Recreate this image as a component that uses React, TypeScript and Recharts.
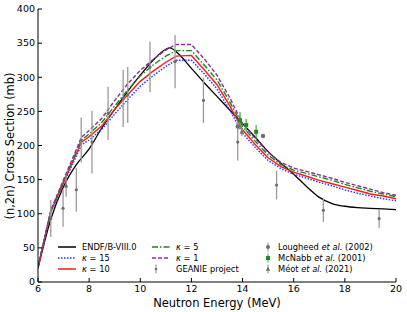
import React from "react";
import {
  ComposedChart,
  Line,
  Scatter,
  ErrorBar,
  XAxis,
  YAxis,
} from "recharts";

// energies (MeV) for the model curves
const ENERGY = [6, 6.5, 7, 7.7, 8, 8.5, 9, 9.5, 10, 10.5, 11, 11.4, 12, 12.5, 13, 13.5, 14, 14.5, 15, 15.5, 16, 16.5, 17, 17.5, 18, 18.5, 19, 19.5, 20];
const KAPPA1 = [22, 105, 150, 212, 222, 240, 266, 290, 310, 326, 340, 348, 348, 327, 303, 270, 232, 210, 190, 175, 167, 162, 157, 152, 146, 141, 136, 131, 127];
const KAPPA5 = [22, 104, 148, 208, 217, 234, 258, 281, 302, 318, 331, 339, 339, 318, 296, 264, 228, 206, 186, 172, 164, 159, 154, 149, 143, 138, 133, 129, 125];
const KAPPA10 = [22, 103, 146, 205, 213, 229, 253, 274, 294, 309, 322, 331, 332, 311, 289, 258, 223, 201, 182, 169, 161, 155, 149, 144, 139, 134, 129, 126, 122];
const KAPPA15 = [22, 102, 144, 201, 208, 224, 246, 267, 287, 302, 316, 325, 325, 305, 283, 252, 218, 197, 178, 166, 158, 152, 146, 141, 135, 130, 126, 122, 119];

// ENDF/B-VIII.0 evaluation
const ENDF_E = [6, 6.5, 7, 7.5, 8, 8.5, 9, 9.5, 10, 10.5, 11, 11.15, 11.5, 12, 12.5, 13, 13.5, 14, 14.5, 15, 15.5, 16, 16.5, 17, 17.5, 18, 18.5, 19, 19.5, 20];
const ENDF_XS = [20, 92, 140, 172, 195, 226, 253, 279, 303, 325, 341, 343, 334, 313, 292, 272, 252, 232, 212, 191, 174, 158, 140, 124, 115, 111, 109, 108, 107, 106];

// measurements
const GEANIE_E = [6.5, 6.98, 7.5, 7.69, 8.11, 8.74, 9.33, 9.51, 10.38, 11.36, 12.47, 13.81, 15.33, 17.16, 19.34];
const GEANIE_XS = [93, 108, 135, 208, 205, 247, 269, 274, 315, 323, 266, 205, 142, 105, 93];
const GEANIE_ERR = [27, 27, 32, 33, 46, 39, 42, 41, 37, 39, 33, 27, 21, 17, 14];

const LOUGHEED_E = [13.81, 14.8];
const LOUGHEED_XS = [228, 214];
const LOUGHEED_ERR = [5, 3];

const MCNABB_E = [13.9, 14.14, 14.53];
const MCNABB_XS = [237, 230, 220];
const MCNABB_ERR = [12, 9, 10];

const MEOT_E = [7.1, 13.97];
const MEOT_XS = [141, 220];
const MEOT_ERR = [16, 6];

const X_TICKS = [6, 8, 10, 12, 14, 16, 18, 20];
const Y_TICKS = [0, 50, 100, 150, 200, 250, 300, 350, 400];

const curve = (xs: number[], ys: number[]) => xs.map((x, i) => ({ x, y: ys[i] }));
const points = (xs: number[], ys: number[], err: number[]) =>
  xs.map((x, i) => ({ x, y: ys[i], err: [err[i], err[i]] }));

const FONT = "DejaVu Sans";
const GRAY = "#6e6e6e";
const BAR_GRAY = "#9a9a9a";
const GREEN = "#1f8a1f";
const COLORS = {
  endf: "#000000",
  k15: "#2b2bff",
  k10: "#ff1a1a",
  k5: "#168a16",
  k1: "#8e2a9e",
};

const dot = (color: string, r: number) => (p: any) =>
  <circle cx={p.cx} cy={p.cy} r={r} fill={color} />;
const square = (color: string) => (p: any) =>
  <rect x={p.cx - 2} y={p.cy - 2} width={4} height={4} fill={color} />;
const triangle = (color: string) => (p: any) =>
  <polygon points={`${p.cx},${p.cy - 2.5} ${p.cx - 2.2},${p.cy + 1.8} ${p.cx + 2.2},${p.cy + 1.8}`} fill={color} />;

const tickStyle = { fontFamily: FONT, fontSize: 9.5, fill: "#000" };

function LegendLine({ color, dash }: { color: string; dash?: string }) {
  return (
    <svg width={20} height={8} style={{ display: "block" }}>
      <line x1={1} y1={4} x2={19} y2={4} stroke={color} strokeWidth={1.5} strokeDasharray={dash} />
    </svg>
  );
}

function LegendMarker({ color, kind }: { color: string; kind: string }) {
  return (
    <svg width={10} height={10} style={{ display: "block" }}>
      <line x1={5} y1={0.5} x2={5} y2={9.5} stroke={color} strokeWidth={1} opacity={0.8} />
      {kind === "circle" && <circle cx={5} cy={5} r={2} fill={color} />}
      {kind === "square" && <rect x={3} y={3} width={4} height={4} fill={color} />}
      {kind === "triangle" && <polygon points="5,2.5 2.8,6.8 7.2,6.8" fill={color} />}
      {kind === "small" && <circle cx={5} cy={5} r={1.3} fill={color} />}
    </svg>
  );
}

const kappa = (v: string) => (
  <span>
    <i>κ</i> = {v}
  </span>
);

const legendRows: { left: number; top: number; sample: React.ReactNode; label: React.ReactNode; gap: number }[] = [
  { left: 57, top: 247, sample: <LegendLine color={COLORS.endf} />, label: "ENDF/B-VIII.0", gap: 25 },
  { left: 57, top: 258, sample: <LegendLine color={COLORS.k15} dash="1.5 1.5" />, label: kappa("15"), gap: 25 },
  { left: 57, top: 269, sample: <LegendLine color={COLORS.k10} />, label: kappa("10"), gap: 25 },
  { left: 151, top: 247, sample: <LegendLine color={COLORS.k5} dash="6 2 1.5 2" />, label: kappa("5"), gap: 25 },
  { left: 151, top: 258, sample: <LegendLine color={COLORS.k1} dash="4 2" />, label: kappa("1"), gap: 25 },
  { left: 151, top: 269, sample: <LegendMarker color={GRAY} kind="small" />, label: "GEANIE project", gap: 25 },
  { left: 258, top: 247, sample: <LegendMarker color={GRAY} kind="circle" />, label: <span>Lougheed <i>et al.</i> (2002)</span>, gap: 20 },
  { left: 258, top: 258, sample: <LegendMarker color={GREEN} kind="square" />, label: <span>McNabb <i>et al.</i> (2001)</span>, gap: 20 },
  { left: 258, top: 269, sample: <LegendMarker color={GRAY} kind="triangle" />, label: <span>Méot <i>et al.</i> (2021)</span>, gap: 20 },
];

export default function App() {
  return (
    <div style={{ position: "absolute", left: 0, top: 0, width: 407, height: 312, background: "#fff" }}>
      <ComposedChart
        width={407}
        height={312}
        margin={{ top: 9, right: 11, bottom: 0, left: 8 }}
        style={{ fontFamily: FONT }}
      >
        <XAxis
          dataKey="x"
          type="number"
          domain={[6, 20]}
          ticks={X_TICKS}
          allowDataOverflow
          height={30}
          tickSize={-4}
          tickMargin={7}
          tick={tickStyle}
          stroke="#000"
          tickLine={{ stroke: "#000" }}
          label={{ value: "Neutron Energy (MeV)", position: "insideBottom", offset: 5, style: { fontFamily: FONT, fontSize: 11.5, fill: "#000" } }}
        />
        <XAxis
          xAxisId="top"
          orientation="top"
          type="number"
          domain={[6, 20]}
          ticks={X_TICKS}
          allowDataOverflow
          height={0}
          tickSize={-4}
          tickFormatter={() => ""}
          stroke="#000"
        />
        <YAxis
          dataKey="y"
          type="number"
          domain={[0, 400]}
          ticks={Y_TICKS}
          allowDataOverflow
          width={30}
          tickSize={-4}
          tickMargin={7}
          tick={tickStyle}
          stroke="#000"
          label={{
            content: () => (
              <text x={10} y={146} transform="rotate(-90 10 146)" textAnchor="middle" dominantBaseline="central" fontFamily={FONT} fontSize={11.5} fill="#000">
                (n,2n) Cross Section (mb)
              </text>
            ),
          }}
        />
        <YAxis
          yAxisId="right"
          orientation="right"
          type="number"
          domain={[0, 400]}
          ticks={Y_TICKS}
          allowDataOverflow
          width={0}
          tickSize={-4}
          tickFormatter={() => ""}
          stroke="#000"
        />

        <Line data={curve(ENDF_E, ENDF_XS)} dataKey="y" type="monotone" stroke={COLORS.endf} strokeWidth={1.3} dot={false} isAnimationActive={false} />
        <Line data={curve(ENERGY, KAPPA15)} dataKey="y" type="linear" stroke={COLORS.k15} strokeWidth={1.4} strokeDasharray="1.5 1.5" dot={false} isAnimationActive={false} />
        <Line data={curve(ENERGY, KAPPA10)} dataKey="y" type="linear" stroke={COLORS.k10} strokeWidth={1.4} dot={false} isAnimationActive={false} />
        <Line data={curve(ENERGY, KAPPA5)} dataKey="y" type="linear" stroke={COLORS.k5} strokeWidth={1.4} strokeDasharray="6 2 1.5 2" dot={false} isAnimationActive={false} />
        <Line data={curve(ENERGY, KAPPA1)} dataKey="y" type="linear" stroke={COLORS.k1} strokeWidth={1.4} strokeDasharray="4 2" dot={false} isAnimationActive={false} />

        <Scatter data={points(GEANIE_E, GEANIE_XS, GEANIE_ERR)} dataKey="y" shape={dot(GRAY, 1.6)} isAnimationActive={false}>
          <ErrorBar dataKey="err" direction="y" width={0} stroke={BAR_GRAY} strokeWidth={1.3} isAnimationActive={false} />
        </Scatter>
        <Scatter data={points(LOUGHEED_E, LOUGHEED_XS, LOUGHEED_ERR)} dataKey="y" shape={dot(GRAY, 2.2)} isAnimationActive={false}>
          <ErrorBar dataKey="err" direction="y" width={0} stroke={BAR_GRAY} strokeWidth={1.3} isAnimationActive={false} />
        </Scatter>
        <Scatter data={points(MEOT_E, MEOT_XS, MEOT_ERR)} dataKey="y" shape={triangle(GRAY)} isAnimationActive={false}>
          <ErrorBar dataKey="err" direction="y" width={0} stroke={BAR_GRAY} strokeWidth={1.3} isAnimationActive={false} />
        </Scatter>
        <Scatter data={points(MCNABB_E, MCNABB_XS, MCNABB_ERR)} dataKey="y" shape={square(GREEN)} isAnimationActive={false}>
          <ErrorBar dataKey="err" direction="y" width={0} stroke="#4caf4c" strokeWidth={1.3} isAnimationActive={false} />
        </Scatter>
      </ComposedChart>

      {legendRows.map((r, i) => (
        <div
          key={i}
          style={{
            position: "absolute",
            left: r.left,
            top: r.top - 5,
            height: 10,
            display: "flex",
            alignItems: "center",
            fontFamily: FONT,
            fontSize: 8.3,
            lineHeight: "10px",
            whiteSpace: "nowrap",
          }}
        >
          <div style={{ width: r.gap, display: "flex", justifyContent: r.gap === 20 ? "center" : "flex-start" }}>{r.sample}</div>
          <div>{r.label}</div>
        </div>
      ))}
    </div>
  );
}
